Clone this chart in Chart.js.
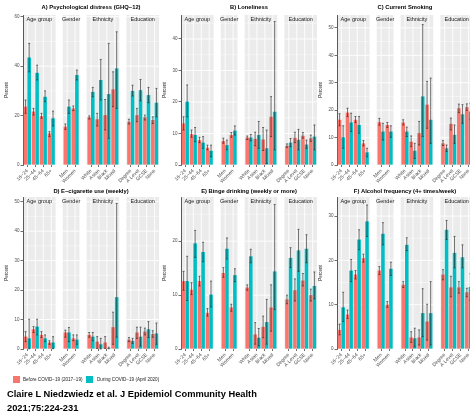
<!DOCTYPE html>
<html>
<head>
<meta charset="utf-8">
<script src="https://cdn.jsdelivr.net/npm/chart.js@4.4.1/dist/chart.umd.min.js"></script>
<style>
  html, body { margin: 0; padding: 0; background: #fff; }
  body { position: relative; width: 470px; height: 412px; overflow: hidden;
         font-family: "Liberation Sans", Arial, sans-serif; }
  canvas { position: absolute; }
  .key { position: absolute; top: 376px; width: 7px; height: 7px; }
  .keytext { position: absolute; top: 376px; font-size: 4.6px; line-height: 7px; color: #1a1a1a; white-space: nowrap; }
  .cite { position: absolute; left: 7px; font-weight: bold; font-size: 9.3px; line-height: 10px; color: #000; white-space: nowrap; }
</style>
</head>
<body>
<canvas id="pA" width="162" height="190" style="left:0;top:0"></canvas>
<canvas id="pB" width="162" height="190" style="left:158px;top:0"></canvas>
<canvas id="pC" width="162" height="190" style="left:314px;top:0"></canvas>
<canvas id="pD" width="162" height="195" style="left:0;top:180px"></canvas>
<canvas id="pE" width="162" height="195" style="left:158px;top:180px"></canvas>
<canvas id="pF" width="162" height="195" style="left:314px;top:180px"></canvas>

<div class="key" style="left:13px;background:#F8766D"></div>
<div class="keytext" style="left:23px">Before COVID−19 (2017−19)</div>
<div class="key" style="left:86px;background:#00BFC4"></div>
<div class="keytext" style="left:97px">During COVID−19 (April 2020)</div>

<div class="cite" style="top:389px">Claire L Niedzwiedz et al. J Epidemiol Community Health</div>
<div class="cite" style="top:403px">2021;75:224-231</div>

<script>
// categories, in facet order
const facetNames = ["Age group", "Gender", "Ethnicity", "Education"];
const ageGroups = ["16−24", "25−44", "45−64", "65+"];
const genders = ["Men", "Women"];
const ethnicities = ["White", "Asian", "Black", "Mixed"];
const educations = ["Degree", "A Level", "GCSE", "None"];

// A) Psychological distress (GHQ-12)
const distressBefore     = [23.6, 21.6, 19.8, 12.8, 15.5, 22.9, 19.3, 18.5, 20.2, 30.6, 17.5, 20.2, 19.3, 18.2];
const distressBeforeLow  = [20.9, 20.2, 18.9, 11.5, 14.4, 22.0, 18.6, 15.8, 14.2, 23.6, 16.6, 17.5, 18.2, 16.8];
const distressBeforeHigh = [26.3, 22.9, 20.9, 13.5, 16.6, 23.9, 19.9, 20.9, 26.5, 37.7, 18.5, 22.9, 20.2, 19.5];
const distressDuring     = [43.5, 37.3, 27.6, 18.9, 23.6, 36.4, 29.6, 34.4, 28.7, 39.1, 30.0, 30.3, 28.3, 25.2];
const distressDuringLow  = [37.7, 34.4, 25.6, 15.8, 20.9, 34.4, 27.6, 26.3, 10.8, 22.9, 27.9, 26.0, 25.2, 19.5];
const distressDuringHigh = [49.2, 40.4, 30.0, 21.8, 26.3, 38.4, 31.4, 42.7, 49.2, 53.9, 32.3, 34.6, 31.4, 31.0];

// B) Loneliness
const lonelyBefore     = [13.2, 9.8, 7.9, 5.5, 7.6, 9.5, 8.7, 8.3, 8.1, 15.3, 6.1, 8.6, 9.3, 8.5];
const lonelyBeforeLow  = [11.1, 8.8, 7.1, 4.8, 6.9, 8.8, 8.1, 6.1, 4.6, 9.0, 5.6, 7.1, 8.5, 7.5];
const lonelyBeforeHigh = [15.3, 11.1, 8.8, 6.3, 8.5, 10.3, 9.2, 10.4, 11.9, 21.7, 6.7, 10.4, 10.3, 9.5];
const lonelyDuring     = [20.1, 9.5, 7.1, 4.5, 6.3, 10.9, 8.7, 9.5, 5.3, 16.9, 7.1, 8.0, 6.5, 9.0];
const lonelyDuringLow  = [15.3, 7.4, 5.3, 2.6, 4.8, 9.5, 7.7, 5.3, 0.5, 4.8, 5.8, 4.8, 5.3, 4.8];
const lonelyDuringHigh = [25.4, 11.9, 9.0, 6.3, 7.9, 12.4, 9.7, 13.8, 11.1, 45.5, 8.4, 11.3, 7.9, 12.7];

// C) Current smoking
const smokeBefore     = [16.5, 19.1, 16.5, 7.9, 15.6, 14.6, 15.5, 8.5, 11.6, 22.0, 7.9, 15.0, 20.7, 21.1];
const smokeBeforeLow  = [14.3, 17.7, 15.5, 7.0, 14.5, 13.7, 14.6, 6.7, 7.3, 13.4, 7.1, 12.8, 19.1, 19.9];
const smokeBeforeHigh = [18.7, 20.7, 17.7, 8.9, 17.0, 15.5, 16.5, 10.6, 15.9, 30.5, 8.9, 17.1, 22.2, 22.3];
const smokeDuring     = [10.1, 15.5, 14.6, 4.6, 12.2, 12.2, 12.2, 5.2, 25.0, 16.5, 6.1, 11.0, 18.5, 19.5];
const smokeDuringLow  = [6.1, 12.2, 11.6, 3.0, 9.1, 10.1, 10.4, 2.4, 10.4, 7.9, 4.9, 7.9, 15.2, 16.5];
const smokeDuringHigh = [14.3, 18.9, 17.7, 6.1, 15.2, 14.3, 13.8, 7.9, 51.2, 31.7, 7.3, 14.6, 22.0, 22.5];

// D) E-cigarette use (weekly)
const ecigBefore     = [4.2, 6.7, 4.8, 2.2, 5.6, 3.6, 4.8, 2.5, 2.2, 7.4, 3.2, 5.6, 5.9, 5.1];
const ecigBeforeLow  = [2.5, 5.6, 3.9, 1.6, 4.0, 2.8, 4.0, 0.2, 0.2, 1.6, 2.5, 3.6, 4.8, 4.0];
const ecigBeforeHigh = [5.9, 7.6, 5.9, 2.8, 6.4, 4.8, 5.6, 4.2, 4.2, 12.5, 3.9, 7.4, 7.1, 6.2];
const ecigDuring     = [3.6, 7.6, 3.6, 2.2, 5.6, 3.2, 4.2, 1.6, 0.3, 17.6, 2.8, 4.2, 6.7, 5.3];
const ecigDuringLow  = [0.1, 4.8, 2.5, 0.1, 2.5, 1.6, 2.8, 0.0, 0.1, 4.0, 1.9, 1.0, 3.9, 1.6];
const ecigDuringHigh = [10.1, 10.1, 4.8, 4.2, 7.3, 4.8, 5.6, 3.6, 0.6, 49.4, 3.6, 7.4, 9.3, 8.8];

// E) Binge drinking (weekly or more)
const bingeBefore     = [12.6, 11.0, 12.6, 6.7, 14.1, 7.7, 11.4, 2.7, 4.1, 7.7, 9.2, 10.9, 12.7, 10.0];
const bingeBeforeLow  = [10.9, 10.1, 11.7, 6.1, 13.3, 7.0, 10.9, 0.9, 2.1, 3.3, 8.4, 8.9, 11.7, 8.9];
const bingeBeforeHigh = [14.4, 12.3, 13.5, 7.5, 15.1, 8.3, 11.9, 4.9, 6.1, 11.9, 10.0, 13.0, 14.0, 11.1];
const bingeDuring     = [12.6, 19.6, 18.0, 10.1, 18.6, 13.7, 17.2, 2.1, 5.0, 14.4, 16.9, 18.3, 18.6, 11.7];
const bingeDuringLow  = [9.0, 17.0, 16.2, 7.8, 16.7, 12.5, 16.0, 0.6, 0.9, 7.3, 15.1, 14.4, 16.0, 9.3];
const bingeDuringHigh = [17.2, 22.0, 19.8, 12.6, 20.6, 14.9, 18.5, 3.8, 9.2, 26.8, 18.8, 22.2, 21.2, 14.3];

// F) Alcohol frequency (4+ times/week)
const alcoholBefore     = [4.3, 7.8, 16.8, 20.5, 17.7, 10.0, 14.5, 2.6, 2.6, 6.2, 16.8, 13.9, 13.9, 12.8];
const alcoholBeforeLow  = [3.2, 6.9, 15.8, 19.6, 16.8, 9.4, 13.9, 1.5, 0.9, 2.0, 15.6, 11.8, 12.6, 11.8];
const alcoholBeforeHigh = [5.6, 8.8, 17.7, 21.4, 18.6, 10.7, 15.2, 3.9, 4.3, 10.1, 17.9, 16.4, 15.2, 13.7];
const alcoholDuring     = [9.4, 17.7, 24.7, 28.8, 26.0, 18.1, 23.5, 2.4, 8.1, 8.1, 26.9, 21.7, 20.7, 14.0];
const alcoholDuringLow  = [6.2, 15.2, 22.4, 25.4, 23.5, 16.6, 22.2, 0.5, 2.8, 0.9, 24.7, 18.3, 18.3, 11.0];
const alcoholDuringHigh = [12.8, 20.2, 26.9, 32.5, 28.5, 19.6, 25.1, 4.7, 13.6, 15.2, 29.0, 25.4, 23.5, 17.0];

const RED = "#F8766D";
const TEAL = "#00BFC4";
const FONT = '"Liberation Sans", Arial, sans-serif';
Chart.defaults.font.family = FONT;

// facet layout on a linear x axis (ggplot style: 0.55 unit expansion, gap between facets)
const EXPAND = 0.55, GAP = 0.9;
const facets = [];
const tickPos = [];
const tickLabels = [];
let cursor = 0;
[ageGroups, genders, ethnicities, educations].forEach((cats, k) => {
  const start = cursor;
  const end = start + cats.length - 1 + 2 * EXPAND;
  const pos = cats.map((c, j) => start + EXPAND + j);
  pos.forEach((p, j) => { tickPos.push(p); tickLabels.push(cats[j]); });
  facets.push({ name: facetNames[k], start, end, pos });
  cursor = end + GAP;
});
const X_MAX = cursor - GAP;

function points(values) {
  return values.map((v, i) => ({ x: tickPos[i], y: v }));
}

function facetPlugin(spec) {
  return {
    id: "facets",
    beforeDraw(chart) {
      const { ctx, chartArea: a, scales: { x, y } } = chart;
      ctx.save();
      facets.forEach(f => {
        const x0 = x.getPixelForValue(f.start);
        const x1 = x.getPixelForValue(f.end);
        ctx.fillStyle = "#EBEBEB";
        ctx.fillRect(x0, a.top, x1 - x0, a.bottom - a.top);
        ctx.strokeStyle = "#FFFFFF";
        ctx.lineWidth = 0.45;
        for (let v = spec.step / 2; v < spec.yMax; v += spec.step) {
          const py = y.getPixelForValue(v);
          ctx.beginPath(); ctx.moveTo(x0, py); ctx.lineTo(x1, py); ctx.stroke();
        }
        ctx.lineWidth = 0.9;
        for (let v = 0; v <= spec.yMax; v += spec.step) {
          const py = y.getPixelForValue(v);
          ctx.beginPath(); ctx.moveTo(x0, py); ctx.lineTo(x1, py); ctx.stroke();
        }
        f.pos.forEach(p => {
          const px = x.getPixelForValue(p);
          ctx.beginPath(); ctx.moveTo(px, a.top); ctx.lineTo(px, a.bottom); ctx.stroke();
        });
      });
      ctx.restore();
    },
    afterDatasetsDraw(chart) {
      const { ctx, scales: { y } } = chart;
      ctx.save();
      ctx.strokeStyle = "#222";
      ctx.lineWidth = 0.6;
      chart.data.datasets.forEach((ds, i) => {
        chart.getDatasetMeta(i).data.forEach((bar, j) => {
          const px = bar.x;
          const lo = y.getPixelForValue(ds.errLow[j]);
          const hi = y.getPixelForValue(ds.errHigh[j]);
          ctx.beginPath();
          ctx.moveTo(px, lo); ctx.lineTo(px, hi);
          ctx.moveTo(px - 1, lo); ctx.lineTo(px + 1, lo);
          ctx.moveTo(px - 1, hi); ctx.lineTo(px + 1, hi);
          ctx.stroke();
        });
      });
      ctx.restore();
    },
    afterDraw(chart) {
      const { ctx, chartArea: a, scales: { x } } = chart;
      ctx.save();
      ctx.textAlign = "center";
      ctx.textBaseline = "middle";
      ctx.fillStyle = "#1A1A1A";
      ctx.font = "5.5px " + FONT;
      facets.forEach(f => {
        const cx = (x.getPixelForValue(f.start) + x.getPixelForValue(f.end)) / 2;
        ctx.fillText(f.name, cx, a.top + 4.5);
      });
      ctx.fillStyle = "#000";
      ctx.font = "bold 5.8px " + FONT;
      ctx.fillText(spec.title, (a.left + a.right) / 2, spec.titleY);
      ctx.restore();
    }
  };
}

function makePanel(id, spec) {
  return new Chart(document.getElementById(id), {
    type: "bar",
    data: {
      datasets: [
        { label: "Before COVID−19 (2017−19)", data: points(spec.before), backgroundColor: RED,
          errLow: spec.beforeLow, errHigh: spec.beforeHigh },
        { label: "During COVID−19 (April 2020)", data: points(spec.during), backgroundColor: TEAL,
          errLow: spec.duringLow, errHigh: spec.duringHigh }
      ]
    },
    options: {
      responsive: false,
      animation: false,
      devicePixelRatio: 1,
      layout: { padding: { top: spec.padTop, right: 3, left: 0, bottom: 0 } },
      datasets: { bar: { categoryPercentage: 0.9, barPercentage: 1 } },
      plugins: { legend: { display: false }, tooltip: { enabled: false }, title: { display: false } },
      scales: {
        x: {
          type: "linear",
          min: 0,
          max: X_MAX,
          bounds: "data",
          offset: false,
          afterBuildTicks: scale => { scale.ticks = tickPos.map(v => ({ value: v })); },
          afterFit: scale => { scale.height = spec.axisH; },
          ticks: {
            autoSkip: false,
            minRotation: 45,
            maxRotation: 45,
            padding: 1,
            color: "#4D4D4D",
            font: { size: 5 },
            callback: (v, i) => tickLabels[i]
          },
          grid: { offset: false, drawOnChartArea: false, tickLength: 2, color: "#333", lineWidth: 0.7 },
          border: { display: false }
        },
        y: {
          min: 0,
          max: spec.yMax,
          bounds: "data",
          afterFit: scale => { scale.width = 23; },
          ticks: { stepSize: spec.step, includeBounds: false, padding: 1, color: "#4D4D4D", font: { size: 4.5 } },
          grid: { drawOnChartArea: false, tickLength: 2.5, color: "#333", lineWidth: 0.7 },
          border: { display: true, color: "#333", width: 0.8 },
          title: { display: true, text: "Percent", color: "#1A1A1A", font: { size: 4.5 }, padding: { top: 4.3, bottom: 0 } }
        }
      }
    },
    plugins: [facetPlugin(spec)]
  });
}

const row1 = { padTop: 15, axisH: 25, titleY: 7 };
const row2 = { padTop: 17, axisH: 26, titleY: 11 };

makePanel("pA", { ...row1, title: "A) Psychological distress (GHQ−12)", yMax: 60.7, step: 20,
  before: distressBefore, beforeLow: distressBeforeLow, beforeHigh: distressBeforeHigh,
  during: distressDuring, duringLow: distressDuringLow, duringHigh: distressDuringHigh });
makePanel("pB", { ...row1, title: "B) Loneliness", yMax: 47.6, step: 10,
  before: lonelyBefore, beforeLow: lonelyBeforeLow, beforeHigh: lonelyBeforeHigh,
  during: lonelyDuring, duringLow: lonelyDuringLow, duringHigh: lonelyDuringHigh });
makePanel("pC", { ...row1, title: "C) Current Smoking", yMax: 54.7, step: 10,
  before: smokeBefore, beforeLow: smokeBeforeLow, beforeHigh: smokeBeforeHigh,
  during: smokeDuring, duringLow: smokeDuringLow, duringHigh: smokeDuringHigh });
makePanel("pD", { ...row2, title: "D) E−cigarette use (weekly)", yMax: 51.6, step: 10,
  before: ecigBefore, beforeLow: ecigBeforeLow, beforeHigh: ecigBeforeHigh,
  during: ecigDuring, duringLow: ecigDuringLow, duringHigh: ecigDuringHigh });
makePanel("pE", { ...row2, title: "E) Binge drinking (weekly or more)", yMax: 28.2, step: 10,
  before: bingeBefore, beforeLow: bingeBeforeLow, beforeHigh: bingeBeforeHigh,
  during: bingeDuring, duringLow: bingeDuringLow, duringHigh: bingeDuringHigh });
makePanel("pF", { ...row2, title: "F) Alcohol frequency (4+ times/week)", yMax: 34.3, step: 10,
  before: alcoholBefore, beforeLow: alcoholBeforeLow, beforeHigh: alcoholBeforeHigh,
  during: alcoholDuring, duringLow: alcoholDuringLow, duringHigh: alcoholDuringHigh });
</script>
</body>
</html>
